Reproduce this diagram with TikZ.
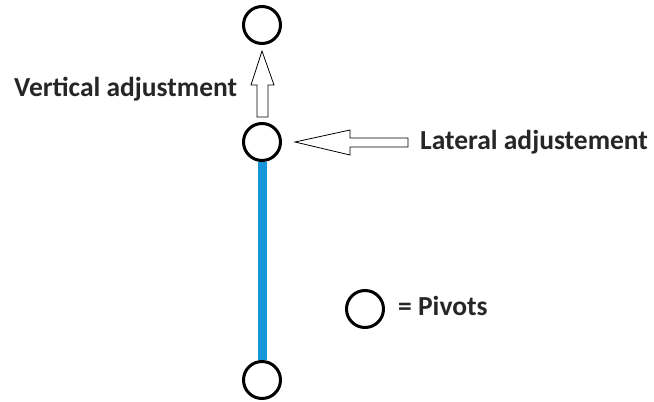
\documentclass[tikz,border=0pt]{standalone}
\usepackage{fontspec}
\setmainfont{Carlito}
\begin{document}
\begin{tikzpicture}[x=1pt,y=-1pt,
  pivot/.style={circle,draw=black,line width=3pt,minimum size=37pt,inner sep=0pt,fill=white},
  label/.style={font=\bfseries\fontsize{27.5}{30}\selectfont,text=black!85,inner sep=0pt},
  hollowarrow/.style={draw=black,line width=0.8pt,fill=white,line join=miter},
  rod/.style={draw={rgb,255:red,24;green,150;blue,218},line width=9pt}]
\useasboundingbox (0,0) rectangle (654,402);
% pivots
\node[pivot] (top) at (262,25) {};
\node[pivot] (mid) at (262,142) {};
\node[pivot] (bot) at (262,380) {};
\node[pivot] (key) at (365,309) {};
% blue rod between the two lower pivots
\draw[rod] (mid.south) -- (bot.north);
% vertical adjustment arrow
\draw[hollowarrow] (262,51) -- (274,85) -- (268,85) -- (268,117) -- (257,117) -- (257,85) -- (251,85) -- cycle;
% lateral adjustment arrow
\draw[hollowarrow] (295,142) -- (350,130) -- (350,138) -- (408,138) -- (408,147) -- (350,147) -- (350,155) -- cycle;
% labels
\node[label,anchor=base west] (vlab) at (14,96) {Vertical adjustment};
\node[label,anchor=base west] (llab) at (420,149) {Lateral adjustement};
\node[label,anchor=base west] (plab) at (398,315) {= Pivots};
\end{tikzpicture}
\end{document}
